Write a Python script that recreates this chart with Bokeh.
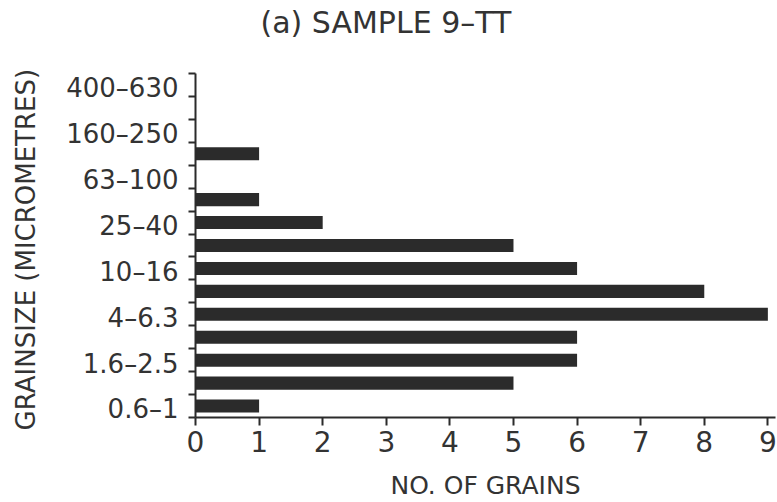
from bokeh.plotting import figure
from bokeh.models import FixedTicker, Range1d, ColumnDataSource, Title
from bokeh.embed import file_html
from bokeh.resources import INLINE

# ---- data ----
size_classes = ["0.6–1", "1–1.6", "1.6–2.5", "2.5–4", "4–6.3", "6.3–10", "10–16",
                "16–25", "25–40", "40–63", "63–100", "100–160", "160–250",
                "250–400", "400–630"]
grain_counts = [1, 5, 6, 6, 9, 8, 6, 5, 2, 1, 0, 1, 0, 0, 0]
labeled_classes = ["0.6–1", "1.6–2.5", "4–6.3", "10–16", "25–40", "63–100",
                   "160–250", "400–630"]
count_ticks = [0, 1, 2, 3, 4, 5, 6, 7, 8, 9]

FONT = "DejaVu Sans"
INK = "#2b2b2b"
TXT = "#333333"

pos = [i + 0.5 for i in range(len(size_classes))]
src = ColumnDataSource(dict(y=pos, right=grain_counts, cls=size_classes))

p = figure(width=777, height=502, output_backend="svg", toolbar_location=None,
           x_range=Range1d(0, 9.12), y_range=Range1d(0, len(size_classes)),
           min_border_left=195, min_border_right=2, min_border_top=72,
           min_border_bottom=84)

p.hbar(y="y", left=0, right="right", height=0.57, source=src,
       fill_color=INK, line_color=None)

# title
p.title.text = "(a) SAMPLE 9–TT"
p.title.text_font = FONT
p.title.text_font_size = "30px"
p.title.text_font_style = "normal"
p.title.text_color = TXT
p.title.align = "left"
p.title.offset = 65
p.title.standoff = 4
# spacer between title and frame
p.add_layout(Title(text=" ", text_font_size="27px", standoff=0), "above")

p.outline_line_color = None
p.xgrid.grid_line_color = None
p.ygrid.grid_line_color = None

# x axis
xa = p.xaxis[0]
xa.ticker = FixedTicker(ticks=count_ticks)
xa.axis_line_width = 2
xa.axis_line_color = INK
xa.major_tick_line_width = 2
xa.major_tick_line_color = INK
xa.major_tick_out = 8
xa.major_tick_in = 0
xa.minor_tick_line_color = None
xa.major_label_text_font = FONT
xa.major_label_text_font_size = "28px"
xa.major_label_text_color = TXT
xa.major_label_standoff = 5
xa.axis_label = "NO. OF GRAINS"
xa.axis_label_text_font = FONT
xa.axis_label_text_font_size = "25px"
xa.axis_label_text_font_style = "normal"
xa.axis_label_text_color = TXT
xa.axis_label_standoff = 16

# y axis
ya = p.yaxis[0]
label_pos = [pos[size_classes.index(c)] - 0.15 for c in labeled_classes]
ya.ticker = FixedTicker(ticks=label_pos, minor_ticks=list(range(len(size_classes) + 1)))
ya.major_label_overrides = {lp: c for lp, c in zip(label_pos, labeled_classes)}
ya.axis_line_width = 2
ya.axis_line_color = INK
ya.major_tick_out = 0
ya.major_tick_in = 0
ya.major_tick_line_color = None
ya.minor_tick_out = 7
ya.minor_tick_in = 0
ya.minor_tick_line_width = 2
ya.minor_tick_line_color = INK
ya.major_label_text_font = FONT
ya.major_label_text_font_size = "26px"
ya.major_label_text_color = TXT
ya.major_label_standoff = 10
ya.axis_label = "GRAINSIZE  (MICROMETRES)"
ya.axis_label_text_font = FONT
ya.axis_label_text_font_size = "26px"
ya.axis_label_text_font_style = "normal"
ya.axis_label_text_color = TXT
ya.axis_label_standoff = 22

open("out.html", "w").write(file_html(p, INLINE))
